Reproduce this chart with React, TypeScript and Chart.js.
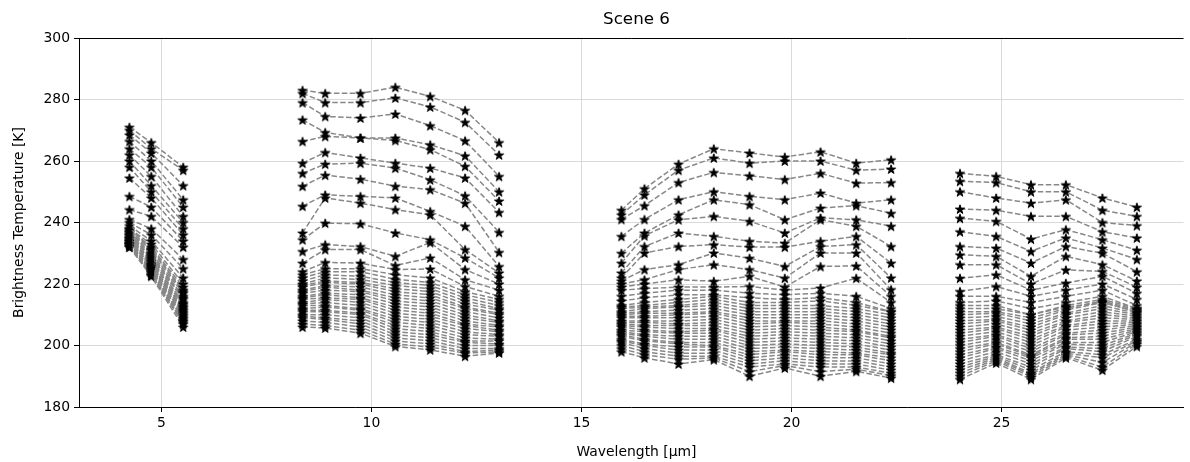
import React, { useEffect, useRef } from "react";
import { Chart, registerables } from "chart.js";

Chart.register(...registerables);

// Wavelength channels (µm), four bands
const WL_BAND1 = [4.24, 4.76, 5.52];
const WL_BAND2 = [8.36, 8.9, 9.74, 10.57, 11.4, 12.23, 13.04];
const WL_BAND3 = [15.95, 16.5, 17.31, 18.15, 19.0, 19.84, 20.69, 21.54, 22.37];
const WL_BAND4 = [24.01, 24.87, 25.7, 26.53, 27.4, 28.22];

const X_TICKS = [5, 10, 15, 20, 25];
const Y_TICKS = [180, 200, 220, 240, 260, 280, 300];

// Brightness temperature profiles [K], one row per pixel: band1 | band2 | band3 | band4
const CLEAR_PROFILES: number[][] = [
  [271, 266, 258, 283, 282, 282, 284, 281, 276.5, 266, 244, 251, 259, 264, 262.6, 261.3, 263, 259.3, 260.4, 256, 255, 252.3, 252.3, 248, 245],
  [270, 264, 257, 282, 279, 279, 280.5, 277.6, 272.6, 262, 242.5, 249, 257, 261, 259.3, 260, 260, 257, 257.4, 253.4, 253, 250, 250, 244, 242],
  [268.5, 262.6, 252, 279, 274.5, 274, 275.3, 271.5, 266.6, 255, 241, 245.5, 253, 256.3, 255.2, 254, 256, 252.8, 253, 250, 248, 246.3, 247.4, 240, 239],
  [266.4, 260, 247.4, 273.4, 269.3, 267.5, 267.5, 265.3, 261.7, 250, 235.5, 241, 247.4, 250, 248.5, 247.4, 249.6, 246.3, 247.4, 244.4, 244, 242, 242, 237, 235],
  [264, 258, 245, 266.4, 268, 267.5, 266.7, 263.7, 258.3, 247, 230, 236.6, 242.5, 247.4, 245.8, 240.9, 244.7, 245.5, 243, 241.4, 240.4, 234.6, 237.7, 234.4, 231],
  [262, 255, 242, 259.3, 262.8, 261, 259.3, 257.7, 254.5, 243.3, 226.8, 235.7, 240.9, 242, 240.4, 236.6, 241.5, 240.9, 238.8, 237, 235.5, 230.6, 235, 231.7, 228],
  [260, 252, 240, 256, 259, 259.3, 257.7, 253.9, 248.7, 236.8, 223.6, 232.2, 236.6, 235.5, 233.9, 233.3, 240.9, 238.8, 232.2, 232.2, 231.7, 226.8, 232.2, 230, 224],
  [258, 250, 238, 251.8, 255.4, 254.1, 251.8, 250.7, 246.3, 230.3, 222, 230.1, 232.2, 232.8, 232, 232, 233.9, 235.5, 226.8, 229.5, 229, 222.5, 229, 226.3, 221],
  [254.5, 248, 236, 245.3, 249, 248.5, 248, 243.6, 238.8, 225.7, 221, 224.7, 226.3, 230.1, 228.4, 225.7, 232.2, 232.8, 222, 226.3, 226.3, 220, 224.6, 224.1, 219],
  [248.5, 245, 234, 236.6, 248, 246.3, 244.2, 242.5, 231.2, 223.6, 220, 221.4, 224.7, 226.3, 224.7, 221.9, 230.1, 230.1, 218.2, 221.9, 223, 218, 220.3, 222.5, 217],
  [244.2, 242, 232, 234.4, 239.8, 239.6, 236.6, 234.4, 228.5, 222, 219, 220, 221.4, 220.9, 222.5, 219, 225.7, 225.9, 216, 217.6, 219.2, 216, 218, 220, 215],
  [241, 238, 228, 230.6, 232.8, 232.2, 229, 233.5, 224.7, 220, 218, 218.5, 219, 219, 219.2, 218, 218.7, 221.9, 214, 216, 216, 214, 216, 218, 213],
  [240, 236, 225, 226.8, 231.2, 231.2, 226, 228.5, 221.4, 218, 216, 217, 218, 218, 217, 216.5, 217, 216, 212, 214, 214.5, 212, 214, 216, 212],
  [239, 234, 222, 224, 227, 226.8, 224.7, 224.9, 219.2, 216, 214.5, 215.5, 216.5, 216.5, 215.5, 215, 215.5, 214, 211, 213, 213, 210, 212.5, 214, 211],
];

const CLOUDY_PROFILES: number[][] = [
  [238, 233, 220, 223, 225, 225, 223, 222, 217.5, 215, 213, 214, 215, 216, 214, 214, 214.5, 213, 211, 212, 212, 210, 213, 215, 212],
  [238, 232, 219, 222, 224, 224, 221.5, 220.5, 216.5, 214, 212.5, 213, 214, 215, 213, 213, 213, 212, 210, 211, 211, 209, 212, 214.5, 211.5],
  [237.5, 231.5, 218, 221, 223, 222.5, 220.5, 219.5, 215.5, 213, 212, 212.5, 213, 214, 212, 212, 212, 211, 209, 210, 210.5, 208, 211.5, 214, 211],
  [237, 231, 217.5, 220, 222, 221.5, 219.5, 218.5, 214.5, 212, 211, 212, 212.5, 213, 211, 211, 211, 210, 208, 209, 209.5, 207, 210.5, 213, 210.5],
  [237, 230, 217, 219.5, 221, 220.5, 218.5, 217.5, 213.5, 211.5, 210.5, 211, 211.5, 212, 210, 210, 210, 209, 207, 208, 208.5, 206, 210, 212, 210],
  [236.5, 229.5, 216, 219, 220.5, 220, 217.5, 216.5, 212.5, 210.5, 210, 210.5, 210.5, 211, 209, 209, 209, 208, 206, 207, 208, 205, 209, 211, 209.5],
  [236, 229, 215.5, 218, 219.5, 219, 216.5, 215.5, 212, 210, 209.5, 209.5, 210, 210.5, 208, 208, 208, 207, 205, 206, 207, 204, 208, 210, 209],
  [236, 228.5, 215, 217.5, 219, 218, 215.5, 214.5, 211, 209, 209, 209, 209, 209.5, 207, 207.5, 207, 206, 204, 205, 206, 203, 207.5, 209, 208.5],
  [235.5, 228, 214, 217, 218, 217.5, 214.5, 213.5, 210, 208, 208, 208, 208, 208.5, 206, 206.5, 206, 205, 203, 204, 205.5, 202, 206.5, 208, 208],
  [235, 227.5, 213.5, 216, 217, 216.5, 213.5, 212.5, 209, 207.5, 207.5, 207.5, 207, 207.5, 205, 205.5, 205, 204.5, 202.5, 203, 204.5, 201, 206, 207, 207.5],
  [235, 227, 213, 215.5, 216.5, 215.5, 212.5, 211.5, 208, 206.5, 207, 206.5, 206.5, 206.5, 204, 204.5, 204, 203.5, 201.5, 202, 203.5, 200, 205, 206, 207],
  [234.5, 226.5, 212.5, 215, 215.5, 215, 211.5, 210.5, 207, 206, 206.5, 206, 205.5, 205.5, 203, 203.5, 203, 202.5, 200.5, 201, 203, 199, 204, 205, 206.5],
  [234.5, 226, 212, 214, 215, 214, 210.5, 209.5, 206.5, 205, 206, 205, 204.5, 205, 202, 202.5, 202, 201.5, 199.5, 200, 202, 198, 203.5, 204, 206],
  [234, 226, 211.5, 213.5, 214, 213, 209.5, 208.5, 205.5, 204.5, 205, 204.5, 204, 204, 201, 201.5, 201, 200.5, 198.5, 199, 201, 197, 202.5, 203, 205.5],
  [234, 225.5, 211, 213, 213, 212, 208.5, 207.5, 204.5, 203.5, 204.5, 203.5, 203, 203, 200, 200.5, 200, 199.5, 197.5, 198, 200.5, 196.5, 202, 202, 205],
  [233.5, 225, 210.5, 212, 212.5, 211.5, 207.5, 206.5, 203.5, 203, 204, 203, 202, 202, 199, 199.5, 199, 198.5, 197, 197, 199.5, 196, 201, 201, 204.5],
  [233.5, 225, 210, 211.5, 211.5, 210.5, 206.5, 205.5, 202.5, 202, 203.5, 202, 201, 201, 198, 198.5, 198, 197.5, 196, 196, 199, 195, 200.5, 200, 204],
  [233, 224.5, 209.5, 211, 211, 210, 205.5, 204.5, 201.5, 201.5, 203, 201.5, 200.5, 200, 197, 198, 197, 197, 195, 195, 198, 194, 199.5, 199, 203.5],
  [233, 224, 209, 210, 210, 209, 204.5, 203.5, 201, 200.5, 202, 200.5, 199.5, 199.5, 196, 197, 196, 196, 194, 194, 197, 193, 199, 198, 203],
  [233, 224, 208.5, 209.5, 209, 208, 203.5, 202.5, 200, 200, 201.5, 200, 198.5, 198.5, 195, 196, 195, 195, 193, 193, 196.5, 192, 198, 197, 202],
  [232.5, 223.5, 208, 209, 208.5, 207, 202.5, 201.5, 199, 199, 201, 199, 197.5, 197.5, 194, 195, 194, 194, 192, 192, 196, 191, 197.5, 196, 201.5],
  [232.5, 223, 207.5, 208, 207.5, 206, 201.5, 200.5, 198, 198.5, 200, 198, 196.5, 196.5, 193, 194, 193, 193, 191, 191, 195.5, 190.5, 197, 194.5, 201],
  [232, 223, 207, 207, 206.5, 205, 200.5, 199.5, 197.5, 198, 199, 197, 195.5, 196, 191.5, 193.5, 191.5, 192.3, 190.2, 190, 195, 189.8, 196.5, 193, 200.5],
  [232, 222.5, 206, 206, 205.7, 204, 199.7, 198.6, 196.5, 197.6, 198, 196, 194, 195.4, 190, 192.7, 190, 191.6, 189.4, 189, 194.3, 189, 196, 192, 199.7],
];

const FONT = "'DejaVu Sans', sans-serif";

function makeStar(r: number): HTMLCanvasElement {
  const size = 12;
  const c = document.createElement("canvas");
  c.width = size;
  c.height = size;
  const ctx = c.getContext("2d")!;
  ctx.beginPath();
  for (let i = 0; i < 10; i++) {
    const rad = i % 2 === 0 ? r : r * 0.381966;
    const a = -Math.PI / 2 + (i * Math.PI) / 5;
    const x = size / 2 + rad * Math.cos(a);
    const y = size / 2 + 0.6 + rad * Math.sin(a);
    if (i === 0) ctx.moveTo(x, y);
    else ctx.lineTo(x, y);
  }
  ctx.closePath();
  ctx.fillStyle = "#000";
  ctx.fill();
  ctx.strokeStyle = "#000";
  ctx.lineWidth = 1;
  ctx.stroke();
  return c;
}

function buildPoints(row: number[]) {
  const bands = [WL_BAND1, WL_BAND2, WL_BAND3, WL_BAND4];
  const pts: { x: number; y: number | null }[] = [];
  let k = 0;
  bands.forEach((band, bi) => {
    band.forEach((w) => {
      pts.push({ x: w, y: row[k] });
      k++;
    });
    if (bi < bands.length - 1) {
      pts.push({ x: (band[band.length - 1] + bands[bi + 1][0]) / 2, y: null });
    }
  });
  return pts;
}

const decorPlugin = {
  id: "decor",
  afterDatasetsDraw(chart: any) {
    const { ctx, chartArea } = chart;
    const { left, right, top, bottom } = chartArea;
    ctx.save();
    ctx.strokeStyle = "#000";
    ctx.lineWidth = 1;
    ctx.beginPath();
    ctx.moveTo(left, top + 0.5);
    ctx.lineTo(right, top + 0.5);
    ctx.stroke();
    const cx = 636.5;
    ctx.fillStyle = "#000";
    ctx.textAlign = "center";
    ctx.textBaseline = "middle";
    ctx.font = `16.7px ${FONT}`;
    ctx.fillText("Scene 6", cx, 20);
    ctx.font = `13.9px ${FONT}`;
    ctx.fillText("Wavelength [\u03bcm]", cx, 452);
    ctx.translate(19, (top + bottom) / 2);
    ctx.rotate(-Math.PI / 2);
    ctx.fillText("Brightness Temperature [K]", 0, 0);
    ctx.restore();
  },
};

export default function App() {
  const ref = useRef<HTMLCanvasElement | null>(null);
  useEffect(() => {
    document.body.style.margin = "0";
    document.body.style.overflow = "hidden";
    const star = makeStar(4.8);
    const rows = [...CLEAR_PROFILES, ...CLOUDY_PROFILES];
    const datasets = rows.map((row) => ({
      data: buildPoints(row),
      borderColor: "#878787",
      borderWidth: 1.5,
      borderDash: [5.5, 2.4],
      pointStyle: star,
      pointRadius: 5,
      pointHoverRadius: 5,
      spanGaps: false,
      tension: 0,
      fill: false,
    }));
    const chart = new Chart(ref.current!, {
      type: "line",
      data: { datasets },
      plugins: [decorPlugin],
      options: {
        animation: false,
        responsive: false,
        devicePixelRatio: 1,
        events: [],
        layout: { padding: { top: 38, right: 0, left: 0, bottom: 0 } },
        plugins: { legend: { display: false }, tooltip: { enabled: false }, title: { display: false } },
        scales: {
          x: {
            type: "linear",
            min: 3.04,
            max: 29.33,
            afterFit: (s: any) => {
              s.height = 55;
            },
            afterBuildTicks: (s: any) => {
              s.ticks = X_TICKS.map((v) => ({ value: v }));
            },
            ticks: {
              includeBounds: false,
              color: "#000",
              font: { family: FONT, size: 13.9 },
              padding: 3,
              maxRotation: 0,
            },
            grid: {
              color: "#d9d9d9",
              lineWidth: 1,
              drawTicks: true,
              tickLength: 5,
              tickColor: "#000",
              tickWidth: 1,
            },
            border: { display: true, color: "#000", width: 1 },
          },
          y: {
            type: "linear",
            min: 180,
            max: 300,
            afterFit: (s: any) => {
              s.width = 79;
            },
            afterBuildTicks: (s: any) => {
              s.ticks = Y_TICKS.map((v) => ({ value: v }));
            },
            ticks: {
              color: "#000",
              font: { family: FONT, size: 13.9 },
              padding: 4,
            },
            grid: {
              color: "#d9d9d9",
              lineWidth: 1,
              drawTicks: true,
              tickLength: 5,
              tickColor: "#000",
              tickWidth: 1,
            },
            border: { display: true, color: "#000", width: 1 },
          },
        },
      },
    });
    return () => chart.destroy();
  }, []);
  return (
    <div style={{ position: "absolute", left: 0, top: 0, width: 1190, height: 462, background: "#fff" }}>
      <canvas ref={ref} width={1190} height={462} style={{ width: 1190, height: 462 }} />
    </div>
  );
}
